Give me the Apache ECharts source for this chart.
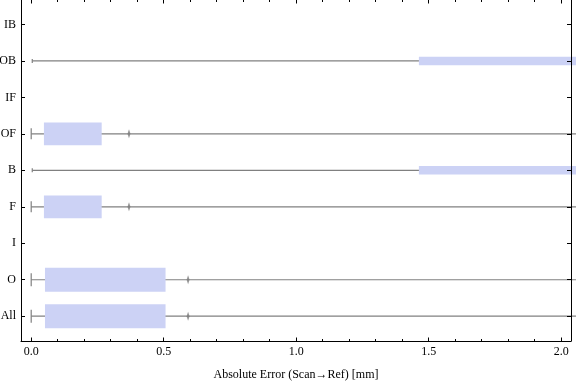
<!DOCTYPE html>
<html><head><meta charset="utf-8">
<script src="https://cdn.jsdelivr.net/npm/echarts@6/dist/echarts.min.js"></script>
<style>html,body{margin:0;padding:0;background:#fff}#c{width:576px;height:381px}</style>
</head><body><div id="c"></div>
<script>
// ---- data ----
const categories  = ['All', 'O', 'I', 'F', 'B', 'OF', 'IF', 'OB', 'IB'];
const whiskerLow  = [0.0,   0.0,   null, 0.0,   0.004, 0.0,   null, 0.004, null];
const q1          = [0.052, 0.052, null, 0.048, 1.463, 0.048, null, 1.463, null];
const q3          = [0.507, 0.507, null, 0.266, 2.3,   0.266, null, 2.3,   null];
const whiskerHigh = [2.3,   2.3,   null, 2.3,   2.3,   2.3,   null, 2.3,   null];
const outliers    = [[0.592], [0.592], [], [0.369], [], [0.369], [], [], []];
const xTickLabels = [0, 0.5, 1, 1.5, 2];
const xMinorTicks = [0, 0.1, 0.2, 0.3, 0.4, 0.5, 0.6, 0.7, 0.8, 0.9, 1.0, 1.1, 1.2, 1.3, 1.4, 1.5, 1.6, 1.7, 1.8, 1.9, 2.0];
const yTickValues = [1, 2, 3, 4, 5, 6, 7, 8, 9];
const axisTitle = 'Absolute Error (Scan\u2192Ref) [mm]';

// ---- styles ----
const boxHeightPx = { All: 24, O: 24, F: 22.7, OF: 22.7, B: 8.5, OB: 8.5 };
const capHeightPx = { All: 13, O: 13, F: 11, OF: 11, B: 4, OB: 4 };
const BOX_COLOR = '#CCD2F5';
const WHISKER_COLOR = '#808080';
const FONT = 'Liberation Serif';

const boxData = [];
categories.forEach((c, i) => {
  if (q1[i] != null) boxData.push([i + 1, whiskerLow[i], q1[i], q3[i], whiskerHigh[i], i]);
});
const outlierData = [];
categories.forEach((c, i) => outliers[i].forEach(v => outlierData.push([v, i + 1])));

const xMin = -0.0385, xMax = 2.037;
const chart = echarts.init(document.getElementById('c'), null, { renderer: 'canvas' });

function xAxisDef(pos, major, showLine, showLabel) {
  return {
    type: 'value', position: pos, min: xMin, max: xMax, z: 10,
    axisLine: { show: showLine, onZero: false, lineStyle: { color: '#000', width: 1 } },
    axisTick: { show: true, inside: true, length: major ? 3.5 : 2, customValues: major ? xTickLabels : xMinorTicks,
      lineStyle: { color: '#000', width: 1 } },
    axisLabel: showLabel ? { show: true, customValues: xTickLabels, formatter: v => v.toFixed(1),
      fontFamily: FONT, fontSize: 12, color: '#000', margin: 5 } : { show: false },
    splitLine: { show: false },
    name: showLabel ? axisTitle : '',
    nameLocation: 'middle', nameGap: 28,
    nameTextStyle: { fontFamily: FONT, fontSize: 12, color: '#000' }
  };
}

function yAxisDef(pos, showLabel) {
  return {
    type: 'value', position: pos, min: 0.32, max: 9.67, z: 10,
    axisLine: { show: true, onZero: false, lineStyle: { color: '#000', width: 1 } },
    axisTick: { show: true, inside: true, length: 4, customValues: yTickValues, lineStyle: { color: '#000' } },
    axisLabel: showLabel ? { show: true, customValues: yTickValues, formatter: v => categories[Math.round(v) - 1],
      fontFamily: FONT, fontSize: 12, color: '#000', margin: 5 } : { show: false },
    splitLine: { show: false }
  };
}

chart.setOption({
  animation: false,
  backgroundColor: '#fff',
  grid: { left: 21, right: 5, top: 0, bottom: 40, containLabel: false, outerBoundsMode: 'none' },
  xAxis: [
    xAxisDef('bottom', true, true, true),
    xAxisDef('bottom', false, false, false),
    xAxisDef('top', true, false, false),
    xAxisDef('top', false, false, false)
  ],
  yAxis: [ yAxisDef('left', true), yAxisDef('right', false) ],
  series: [
    {
      type: 'custom', xAxisIndex: 0, yAxisIndex: 0, clip: false,
      encode: { x: [1, 2, 3, 4], y: 0 },
      data: boxData,
      renderItem: function (params, api) {
        const yv = api.value(0);
        const cat = categories[api.value(5)];
        const lo = api.coord([api.value(1), yv]);
        const b1 = api.coord([api.value(2), yv]);
        const b3 = api.coord([api.value(3), yv]);
        const hi = api.coord([api.value(4), yv]);
        const bh = boxHeightPx[cat], ch = capHeightPx[cat];
        const y = lo[1];
        return {
          type: 'group',
          children: [
            { type: 'line', shape: { x1: lo[0], y1: y, x2: hi[0], y2: y },
              style: { stroke: WHISKER_COLOR, lineWidth: 1.2 } },
            { type: 'line', shape: { x1: lo[0], y1: y - ch / 2, x2: lo[0], y2: y + ch / 2 },
              style: { stroke: WHISKER_COLOR, lineWidth: 1.2 } },
            { type: 'rect', shape: { x: b1[0], y: y - bh / 2, width: b3[0] - b1[0], height: bh },
              style: { fill: BOX_COLOR } }
          ]
        };
      }
    },
    {
      type: 'scatter', xAxisIndex: 0, yAxisIndex: 0,
      data: outlierData,
      symbol: 'path://M5,0 L10,50 L5,100 L0,50 Z',
      symbolSize: [3, 9],
      itemStyle: { color: '#7a7a7a' },
      z: 5
    }
  ]
});
</script>
</body></html>
